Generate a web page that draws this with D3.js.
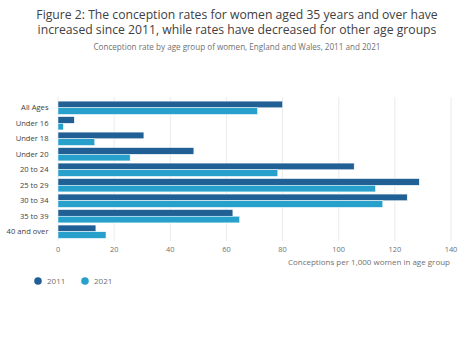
<!DOCTYPE html>
<html>
<head>
<meta charset="utf-8">
<script src="https://cdn.jsdelivr.net/npm/d3@7"></script>
<style>
  body { margin: 0; background: #fff; font-family: "Open Sans", sans-serif; }
  svg text { font-family: "Open Sans", sans-serif; }
</style>
</head>
<body>
<div id="chart"></div>
<script>
// Conception rate per 1,000 women, by age group
const ageGroups = ["All Ages", "Under 16", "Under 18", "Under 20", "20 to 24", "25 to 29", "30 to 34", "35 to 39", "40 and over"];
const years = ["2011", "2021"];
const rates2011 = [80.0, 5.8, 30.6, 48.4, 105.5, 128.7, 124.4, 62.3, 13.5];
const rates2021 = [71.1, 1.9, 13.1, 25.7, 78.3, 113.1, 115.7, 64.7, 17.1];
const xTicks = [0, 20, 40, 60, 80, 100, 120, 140];
const yearColours = ["#206095", "#27a0cc"];

const width = 474, height = 339;
const svg = d3.select("#chart").append("svg")
    .attr("width", width)
    .attr("height", height);

// title + subtitle
const titleLines = [
    "Figure 2: The conception rates for women aged 35 years and over have",
    "increased since 2011, while rates have decreased for other age groups"
];
svg.append("g")
    .selectAll("text")
    .data(titleLines)
    .join("text")
    .attr("x", width / 2).attr("y", (d, i) => 19 + i * 14.5)
    .attr("text-anchor", "middle")
    .attr("font-size", 12.2).attr("fill", "#414042")
    .text(d => d);
svg.append("text")
    .attr("x", width / 2).attr("y", 49.5)
    .attr("text-anchor", "middle")
    .attr("font-size", 8.1).attr("fill", "#707071")
    .text("Conception rate by age group of women, England and Wales, 2011 and 2021");

const x = d3.scaleLinear().domain([0, 140]).range([58, 451]);
const y = d3.scaleBand().domain(ageGroups).range([100.5, 239]).paddingInner(0.14).paddingOuter(0.04);
const yInner = d3.scaleBand().domain(years).range([0, y.bandwidth()]);

// gridlines
svg.append("g")
    .selectAll("line")
    .data(xTicks)
    .join("line")
    .attr("x1", d => x(d)).attr("x2", d => x(d))
    .attr("y1", 97).attr("y2", 241)
    .attr("stroke", "#e6e6e6").attr("stroke-width", 0.8);

// tick labels
svg.append("g")
    .selectAll("text")
    .data(xTicks)
    .join("text")
    .attr("x", d => x(d)).attr("y", 251.5)
    .attr("text-anchor", "middle")
    .attr("font-size", 7.4).attr("fill", "#707071")
    .text(d => d);

svg.append("text")
    .attr("x", 450).attr("y", 265)
    .attr("text-anchor", "end")
    .attr("font-size", 8.0).attr("fill", "#707071")
    .text("Conceptions per 1,000 women in age group");

// category labels
svg.append("g")
    .selectAll("text")
    .data(ageGroups)
    .join("text")
    .attr("x", 48.5)
    .attr("y", d => y(d) + y.bandwidth() / 2 + 2.7)
    .attr("text-anchor", "end")
    .attr("font-size", 7.6).attr("fill", "#414042")
    .text(d => d);

// bars
const rows = ageGroups.map((g, i) => ({ group: g, values: [rates2011[i], rates2021[i]] }));
svg.append("g")
    .selectAll("g")
    .data(rows)
    .join("g")
    .attr("transform", d => `translate(0,${y(d.group)})`)
    .selectAll("rect")
    .data(d => d.values.map((v, j) => ({ year: years[j], value: v, j })))
    .join("rect")
    .attr("x", x(0))
    .attr("y", d => yInner(d.year))
    .attr("width", d => x(d.value) - x(0))
    .attr("height", yInner.bandwidth())
    .attr("fill", d => yearColours[d.j])
    .attr("stroke", "#fff").attr("stroke-width", 0.5);

// legend
const legend = svg.append("g")
    .selectAll("g")
    .data(years)
    .join("g")
    .attr("transform", (d, i) => `translate(${38 + i * 47},281)`);
legend.append("circle")
    .attr("r", 3.8)
    .attr("fill", (d, i) => yearColours[i]);
legend.append("text")
    .attr("x", 9).attr("y", 2.8)
    .attr("font-size", 8.0).attr("fill", "#707071")
    .text(d => d);
</script>
</body>
</html>
